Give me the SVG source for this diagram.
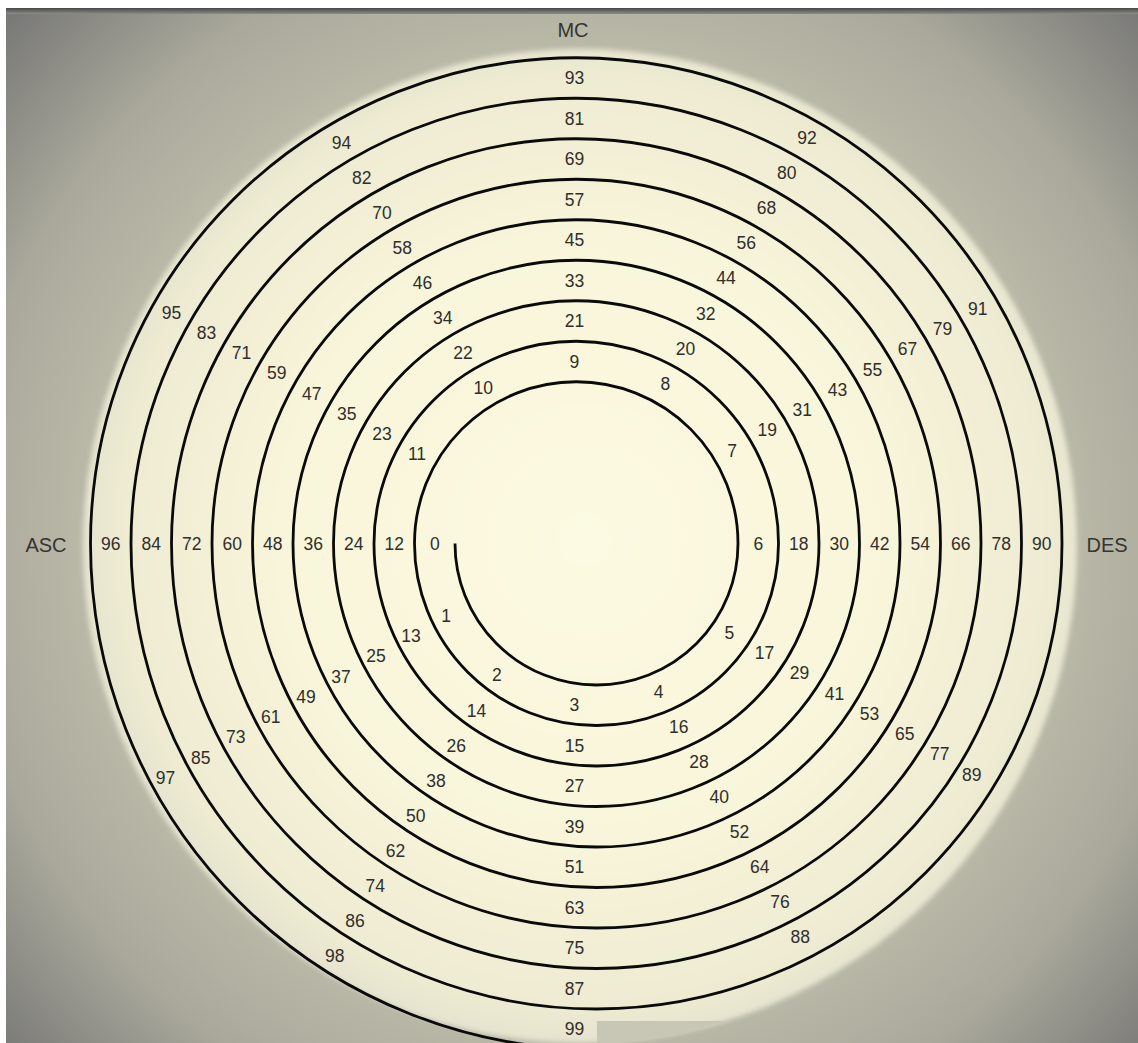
<svg xmlns="http://www.w3.org/2000/svg" width="1138" height="1043" viewBox="0 0 1138 1043">
<defs>
<radialGradient id="bg" gradientUnits="userSpaceOnUse" cx="578" cy="540" r="820">
<stop offset="0" stop-color="#cfcebb"/>
<stop offset="0.55" stop-color="#c0bfac"/>
<stop offset="0.75" stop-color="#a9a89b"/>
<stop offset="1" stop-color="#6a6a6c"/>
</radialGradient>
<radialGradient id="disk" gradientUnits="userSpaceOnUse" cx="585" cy="540" r="500">
<stop offset="0" stop-color="#fcfae2"/>
<stop offset="0.6" stop-color="#f8f5da"/>
<stop offset="0.93" stop-color="#eeebd2"/>
<stop offset="1" stop-color="#e6e4cf"/>
</radialGradient>
<linearGradient id="bar" x1="0" y1="0" x2="0" y2="1">
<stop offset="0" stop-color="#474747"/>
<stop offset="1" stop-color="#8c8c88"/>
</linearGradient>
<filter id="soft" x="-5%" y="-5%" width="110%" height="110%">
<feGaussianBlur stdDeviation="2.5"/>
</filter>
<clipPath id="diskclip"><circle cx="580" cy="546" r="498"/></clipPath>
</defs>
<style>
.lbl{font-family:"Liberation Sans",Arial,sans-serif;font-size:17.5px;fill:#2f2f2c;text-anchor:middle;dominant-baseline:central}
.ax{font-family:"Liberation Sans",Arial,sans-serif;font-size:20px;fill:#353531;text-anchor:middle;dominant-baseline:central}
.sp{fill:none;stroke:#0a0a0a;stroke-width:2.8;stroke-linejoin:round}
</style>
<g id="background">
<rect x="0" y="0" width="1138" height="1043" fill="url(#bg)"/>
<circle cx="580" cy="546" r="497" fill="url(#disk)" filter="url(#soft)"/>
<rect x="597" y="1021" width="420" height="22" fill="#c8c7b5" clip-path="url(#diskclip)"/>
<rect x="0" y="0" width="1138" height="8" fill="#ffffff"/>
<rect x="0" y="8" width="1138" height="6" fill="url(#bar)"/>
<rect x="0" y="0" width="6" height="1043" fill="#ffffff"/>
</g>
<g id="spiral">
<path class="sp" d="M455,543.5
A141.5,141.5 0 0 0 596.5,685 A141.5,141.5 0 0 0 738,543.5
A161.75,161.75 0 0 0 576.25,381.75 A161.75,161.75 0 0 0 414.5,543.5
A182,182 0 0 0 596.5,725.5 A182,182 0 0 0 778.5,543.5
A202.25,202.25 0 0 0 576.25,341.25 A202.25,202.25 0 0 0 374,543.5
A222.5,222.5 0 0 0 596.5,766 A222.5,222.5 0 0 0 819,543.5
A242.75,242.75 0 0 0 576.25,300.75 A242.75,242.75 0 0 0 333.5,543.5
A263,263 0 0 0 596.5,806.5 A263,263 0 0 0 859.5,543.5
A283.25,283.25 0 0 0 576.25,260.25 A283.25,283.25 0 0 0 293,543.5
A303.5,303.5 0 0 0 596.5,847 A303.5,303.5 0 0 0 900,543.5
A323.75,323.75 0 0 0 576.25,219.75 A323.75,323.75 0 0 0 252.5,543.5
A344,344 0 0 0 596.5,887.5 A344,344 0 0 0 940.5,543.5
A364.25,364.25 0 0 0 576.25,179.25 A364.25,364.25 0 0 0 212,543.5
A384.5,384.5 0 0 0 596.5,928 A384.5,384.5 0 0 0 981,543.5
A404.75,404.75 0 0 0 576.25,138.75 A404.75,404.75 0 0 0 171.5,543.5
A425,425 0 0 0 596.5,968.5 A425,425 0 0 0 1021.5,543.5
A445.25,445.25 0 0 0 576.25,98.25 A445.25,445.25 0 0 0 131,543.5
A465.5,465.5 0 0 0 596.5,1009 A465.5,465.5 0 0 0 1062,543.5
A485.75,485.75 0 0 0 576.25,57.75 A485.75,485.75 0 0 0 90.5,543.5
A506,506 0 0 0 596.5,1049.5"/>
</g>
<g id="axes">
<text id="mc" class="ax" x="573" y="30">MC</text>
<text id="asc" class="ax" x="46" y="545">ASC</text>
<text id="des" class="ax" x="1107" y="545">DES</text>
</g>
<g id="labels" class="lbl">
<text class="lbl" x="434.8" y="543.5">0</text>
<text class="lbl" x="446.2" y="615.8">1</text>
<text class="lbl" x="496.8" y="675.4">2</text>
<text class="lbl" x="574.4" y="705.2">3</text>
<text class="lbl" x="658.6" y="691.7">4</text>
<text class="lbl" x="729.3" y="632.9">5</text>
<text class="lbl" x="758.3" y="543.5">6</text>
<text class="lbl" x="732.1" y="450.7">7</text>
<text class="lbl" x="665.3" y="383.6">8</text>
<text class="lbl" x="574.4" y="361.5">9</text>
<text class="lbl" x="483.3" y="388.2">10</text>
<text class="lbl" x="417.0" y="454.3">11</text>
<text class="lbl" x="394.3" y="543.5">12</text>
<text class="lbl" x="411.1" y="636.0">13</text>
<text class="lbl" x="476.6" y="710.5">14</text>
<text class="lbl" x="574.4" y="745.7">15</text>
<text class="lbl" x="678.8" y="726.7">16</text>
<text class="lbl" x="764.4" y="653.2">17</text>
<text class="lbl" x="798.8" y="543.5">18</text>
<text class="lbl" x="767.2" y="430.4">19</text>
<text class="lbl" x="685.6" y="348.6">20</text>
<text class="lbl" x="574.4" y="321.0">21</text>
<text class="lbl" x="462.9" y="353.1">22</text>
<text class="lbl" x="381.9" y="434.1">23</text>
<text class="lbl" x="353.8" y="543.5">24</text>
<text class="lbl" x="376.0" y="656.3">25</text>
<text class="lbl" x="456.3" y="745.6">26</text>
<text class="lbl" x="574.4" y="786.2">27</text>
<text class="lbl" x="699.1" y="761.8">28</text>
<text class="lbl" x="799.4" y="673.4">29</text>
<text class="lbl" x="839.3" y="543.5">30</text>
<text class="lbl" x="802.3" y="410.2">31</text>
<text class="lbl" x="705.8" y="313.5">32</text>
<text class="lbl" x="574.4" y="280.5">33</text>
<text class="lbl" x="442.8" y="318.0">34</text>
<text class="lbl" x="346.8" y="413.8">35</text>
<text class="lbl" x="313.3" y="543.5">36</text>
<text class="lbl" x="341.0" y="676.5">37</text>
<text class="lbl" x="436.1" y="780.6">38</text>
<text class="lbl" x="574.4" y="826.7">39</text>
<text class="lbl" x="719.3" y="796.9">40</text>
<text class="lbl" x="834.5" y="693.7">41</text>
<text class="lbl" x="879.8" y="543.5">42</text>
<text class="lbl" x="837.4" y="389.9">43</text>
<text class="lbl" x="726.1" y="278.4">44</text>
<text class="lbl" x="574.4" y="240.0">45</text>
<text class="lbl" x="422.6" y="283.0">46</text>
<text class="lbl" x="311.7" y="393.6">47</text>
<text class="lbl" x="272.8" y="543.5">48</text>
<text class="lbl" x="305.9" y="696.8">49</text>
<text class="lbl" x="415.8" y="815.7">50</text>
<text class="lbl" x="574.4" y="867.2">51</text>
<text class="lbl" x="739.6" y="832.0">52</text>
<text class="lbl" x="869.6" y="713.9">53</text>
<text class="lbl" x="920.3" y="543.5">54</text>
<text class="lbl" x="872.4" y="369.7">55</text>
<text class="lbl" x="746.3" y="243.3">56</text>
<text class="lbl" x="574.4" y="199.5">57</text>
<text class="lbl" x="402.3" y="247.9">58</text>
<text class="lbl" x="276.7" y="373.3">59</text>
<text class="lbl" x="232.3" y="543.5">60</text>
<text class="lbl" x="270.8" y="717.0">61</text>
<text class="lbl" x="395.6" y="850.8">62</text>
<text class="lbl" x="574.4" y="907.7">63</text>
<text class="lbl" x="759.8" y="867.0">64</text>
<text class="lbl" x="904.7" y="734.2">65</text>
<text class="lbl" x="960.8" y="543.5">66</text>
<text class="lbl" x="907.5" y="349.4">67</text>
<text class="lbl" x="766.6" y="208.3">68</text>
<text class="lbl" x="574.4" y="159.0">69</text>
<text class="lbl" x="382.1" y="212.8">70</text>
<text class="lbl" x="241.6" y="353.1">71</text>
<text class="lbl" x="191.8" y="543.5">72</text>
<text class="lbl" x="235.8" y="737.3">73</text>
<text class="lbl" x="375.3" y="885.9">74</text>
<text class="lbl" x="574.4" y="948.2">75</text>
<text class="lbl" x="780.1" y="902.1">76</text>
<text class="lbl" x="939.7" y="754.4">77</text>
<text class="lbl" x="1001.3" y="543.5">78</text>
<text class="lbl" x="942.6" y="329.2">79</text>
<text class="lbl" x="786.8" y="173.2">80</text>
<text class="lbl" x="574.4" y="118.5">81</text>
<text class="lbl" x="361.8" y="177.8">82</text>
<text class="lbl" x="206.5" y="332.8">83</text>
<text class="lbl" x="151.3" y="543.5">84</text>
<text class="lbl" x="200.7" y="757.5">85</text>
<text class="lbl" x="355.1" y="920.9">86</text>
<text class="lbl" x="574.4" y="988.7">87</text>
<text class="lbl" x="800.3" y="937.2">88</text>
<text class="lbl" x="971.8" y="774.7">89</text>
<text class="lbl" x="1041.8" y="543.5">90</text>
<text class="lbl" x="977.7" y="308.9">91</text>
<text class="lbl" x="807.1" y="138.1">92</text>
<text class="lbl" x="574.4" y="78.0">93</text>
<text class="lbl" x="341.6" y="142.7">94</text>
<text class="lbl" x="171.4" y="312.6">95</text>
<text class="lbl" x="110.8" y="543.5">96</text>
<text class="lbl" x="165.6" y="777.8">97</text>
<text class="lbl" x="334.8" y="956.0">98</text>
<text class="lbl" x="574.4" y="1029.2">99</text>
</g>
</svg>
